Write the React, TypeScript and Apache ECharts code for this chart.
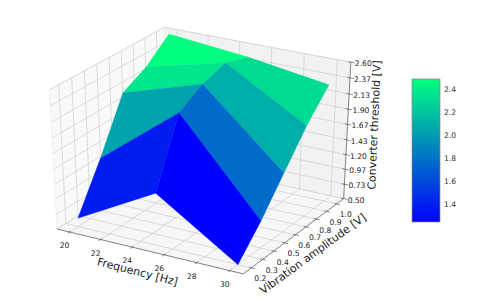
import React, { useEffect, useRef } from "react";
import * as echarts from "echarts";

const frequency = [20, 25, 30];
const amplitude = [0.2, 0.4, 0.6, 0.8, 1.0];
// threshold[amplitude index][frequency index]
const threshold = [
  [0.63, 1.3, 0.5],
  [1.33, 2.27, 0.92],
  [2.11, 2.48, 1.41],
  [2.3, 2.59, 1.9],
  [2.6, 2.48, 2.3],
];
const xTicks = [20, 22, 24, 26, 28, 30];
const yTicks = [0.2, 0.3, 0.4, 0.5, 0.6, 0.7, 0.8, 0.9, 1.0];
const zTicks = ["0.50", "0.73", "0.97", "1.20", "1.43", "1.67", "1.90", "2.13", "2.37", "2.60"];
const barTicks = [1.4, 1.6, 1.8, 2.0, 2.2, 2.4];

const xLim = [19.19, 30.81];
const yLim = [0.1294, 1.0706];
const zLim = [0.5, 2.6];
const FONT = '"DejaVu Sans"';

type V = [number, number, number];
// matplotlib's view: azim -60, elev 30, dist 10, then fitted to the page
function project(p: V): [number, number] {
  const [f, g, h] = p;
  const u = 0.866025 * f + 0.5 * g - 0.683013;
  const v = -0.25 * f + 0.433013 * g + 0.866025 * h - 0.524519;
  const w = depth(p);
  return [202.6 + (2150 * u) / w, 146.4 - (1590 * v) / w];
}
function depth([f, g, h]: V) {
  return 10.0915 - 0.433013 * f + 0.75 * g - 0.5 * h;
}
const fx = (x: number) => (x - xLim[0]) / (xLim[1] - xLim[0]);
const fy = (y: number) => (y - yLim[0]) / (yLim[1] - yLim[0]);
const fz = (z: number) => (z - zLim[0]) / (zLim[1] - zLim[0]);

type Face = { pts: V[]; mean: number; d: number };
const faces: Face[] = [];
for (let j = 0; j < amplitude.length - 1; j++) {
  for (let i = 0; i < frequency.length - 1; i++) {
    const idx = [[j, i], [j, i + 1], [j + 1, i + 1], [j + 1, i]];
    const pts = idx.map(([b, a]) => [fx(frequency[a]), fy(amplitude[b]), fz(threshold[b][a])] as V);
    const mean = idx.reduce((s, [b, a]) => s + threshold[b][a], 0) / 4;
    const d = pts.reduce((s, p) => s + depth(p), 0) / 4;
    faces.push({ pts, mean, d });
  }
}
faces.sort((p, q) => q.d - p.d);
const barMin = Math.min(...faces.map((f) => f.mean));
const barMax = Math.max(...faces.map((f) => f.mean));
function winter(t: number) {
  const g = Math.round(255 * t);
  const b = Math.round(255 - 127 * t);
  return `rgb(0,${g},${b})`;
}

const panes: { pts: V[]; fill: string }[] = [
  { pts: [[0, 0, 0], [0, 1, 0], [0, 1, 1], [0, 0, 1]], fill: "#f9f9f9" },
  { pts: [[0, 1, 0], [1, 1, 0], [1, 1, 1], [0, 1, 1]], fill: "#f2f2f2" },
  { pts: [[0, 0, 0], [1, 0, 0], [1, 1, 0], [0, 1, 0]], fill: "#f6f6f6" },
];

const gridLines: V[][] = [];
xTicks.forEach((t) => {
  const f = fx(t);
  gridLines.push([[f, 0, 0], [f, 1, 0]], [[f, 1, 0], [f, 1, 1]]);
});
yTicks.forEach((t) => {
  const g = fy(t);
  gridLines.push([[0, g, 0], [1, g, 0]], [[0, g, 0], [0, g, 1]]);
});
zTicks.forEach((t) => {
  const h = fz(Number(t));
  gridLines.push([[0, 0, h], [0, 1, h]], [[0, 1, h], [1, 1, h]]);
});

const axisLines: V[][] = [
  [[0, 0, 0], [1, 0, 0]],
  [[1, 0, 0], [1, 1, 0]],
  [[1, 1, 0], [1, 1, 1]],
];
const tickMarks: V[][] = [];
xTicks.forEach((t) => tickMarks.push([[fx(t), 0.012, 0], [fx(t), -0.018, 0]]));
yTicks.forEach((t) => tickMarks.push([[0.988, fy(t), 0], [1.018, fy(t), 0]]));
zTicks.forEach((t) => tickMarks.push([[0.985, 1, fz(Number(t))], [1.02, 1, fz(Number(t))]]));

type Label = { text: string; x: number; y: number; size: number; rot?: number };
const labels: Label[] = [];
xTicks.forEach((t) => {
  const [x, y] = project([fx(t), 0, 0]);
  labels.push({ text: String(t), x: x - 5, y: y + 13.5, size: 7.6 });
});
yTicks.forEach((t) => {
  const [x, y] = project([1, fy(t), 0]);
  labels.push({ text: t.toFixed(1), x: x + 9, y: y + 11, size: 7.6 });
});
zTicks.forEach((t) => {
  const [x, y] = project([1, 1, fz(Number(t))]);
  labels.push({ text: t, x: x + 12.5, y: y + 1.5, size: 7.6 });
});
labels.push({ text: "Frequency [Hz]", x: 137.5, y: 272, size: 11, rot: -0.255 });
labels.push({ text: "Vibration amplitude [V]", x: 313, y: 254, size: 11, rot: 0.63 });
labels.push({ text: "Converter threshold [V]", x: 374.5, y: 125, size: 11, rot: 1.527 });

const indices = (n: number) => Array.from({ length: n }, (_, i) => [i]);

export default function App() {
  const ref = useRef<HTMLDivElement>(null);
  useEffect(() => {
    const chart = echarts.init(ref.current!, null, { renderer: "svg" });
    const pt = (api: any, p: V) => api.coord(project(p));
    const lineSeries = (lines: V[][], stroke: string, lineWidth: number, z: number) => ({
      type: "custom",
      coordinateSystem: "cartesian2d",
      xAxisIndex: 0,
      yAxisIndex: 0,
      silent: true,
      clip: false,
      z,
      data: indices(lines.length),
      renderItem: (params: any, api: any) => {
        const l = lines[params.dataIndex];
        const a = pt(api, l[0]);
        const b = pt(api, l[1]);
        return {
          type: "line",
          shape: { x1: a[0], y1: a[1], x2: b[0], y2: b[1] },
          style: { stroke, lineWidth, fill: "none" },
        };
      },
    });
    chart.setOption({
      animation: false,
      backgroundColor: "#ffffff",
      grid: [
        { left: 0, top: 0, width: 491, height: 300 },
        { left: 412, top: 79, width: 28, height: 143 },
      ],
      xAxis: [
        { type: "value", gridIndex: 0, min: 0, max: 491, show: false },
        { type: "value", gridIndex: 1, min: 0, max: 1, show: false },
      ],
      yAxis: [
        { type: "value", gridIndex: 0, min: 0, max: 300, inverse: true, show: false },
        {
          type: "value",
          gridIndex: 1,
          position: "right",
          min: barMin,
          max: barMax,
          axisLine: { show: false },
          splitLine: { show: false },
          axisTick: { show: true, length: 2.5, customValues: barTicks, lineStyle: { color: "#333", width: 0.6 } },
          axisLabel: {
            show: true,
            customValues: barTicks,
            margin: 4,
            color: "#333",
            fontFamily: FONT,
            fontSize: 7.6,
            formatter: (v: number) => v.toFixed(1),
          },
        },
      ],
      series: [
        {
          type: "custom",
          coordinateSystem: "cartesian2d",
          xAxisIndex: 0,
          yAxisIndex: 0,
          silent: true,
          clip: false,
          z: 1,
          data: indices(panes.length),
          renderItem: (params: any, api: any) => {
            const p = panes[params.dataIndex];
            return {
              type: "polygon",
              shape: { points: p.pts.map((q) => pt(api, q)) },
              style: { fill: p.fill, stroke: "#ebebeb", lineWidth: 0.7 },
            };
          },
        },
        lineSeries(gridLines, "#cbcbcb", 0.65, 2),
        {
          type: "custom",
          coordinateSystem: "cartesian2d",
          xAxisIndex: 0,
          yAxisIndex: 0,
          silent: true,
          clip: false,
          z: 4,
          data: indices(faces.length),
          renderItem: (params: any, api: any) => {
            const f = faces[params.dataIndex];
            const color = winter((f.mean - barMin) / (barMax - barMin));
            return {
              type: "polygon",
              shape: { points: f.pts.map((q) => pt(api, q)) },
              style: { fill: color, stroke: color, lineWidth: 0.3 },
            };
          },
        },
        lineSeries(axisLines, "#555555", 0.7, 3),
        lineSeries(tickMarks, "#444444", 0.6, 3),
        {
          type: "custom",
          coordinateSystem: "cartesian2d",
          xAxisIndex: 0,
          yAxisIndex: 0,
          silent: true,
          clip: false,
          z: 5,
          data: indices(labels.length),
          renderItem: (params: any, api: any) => {
            const l = labels[params.dataIndex];
            const c = api.coord([l.x, l.y]);
            return {
              type: "text",
              x: c[0],
              y: c[1],
              rotation: l.rot || 0,
              style: {
                text: l.text,
                x: 0,
                y: 0,
                fill: "#222",
                font: `${l.size}px ${FONT}`,
                align: "center",
                verticalAlign: "middle",
              },
            };
          },
        },
        {
          type: "custom",
          coordinateSystem: "cartesian2d",
          xAxisIndex: 1,
          yAxisIndex: 1,
          silent: true,
          clip: false,
          z: 2,
          data: [[0, barMin]],
          renderItem: (_: any, api: any) => {
            const a = api.coord([0, barMax]);
            const b = api.coord([1, barMin]);
            return {
              type: "rect",
              shape: { x: a[0], y: a[1], width: b[0] - a[0], height: b[1] - a[1] },
              style: {
                fill: {
                  type: "linear",
                  x: 0,
                  y: 0,
                  x2: 0,
                  y2: 1,
                  colorStops: [
                    { offset: 0, color: winter(1) },
                    { offset: 1, color: winter(0) },
                  ],
                },
                stroke: "#8a8a8a",
                lineWidth: 0.7,
              },
            };
          },
        },
      ],
    });
    return () => chart.dispose();
  }, []);
  return <div ref={ref} style={{ position: "fixed", left: 0, top: 0, width: 491, height: 300 }} />;
}
